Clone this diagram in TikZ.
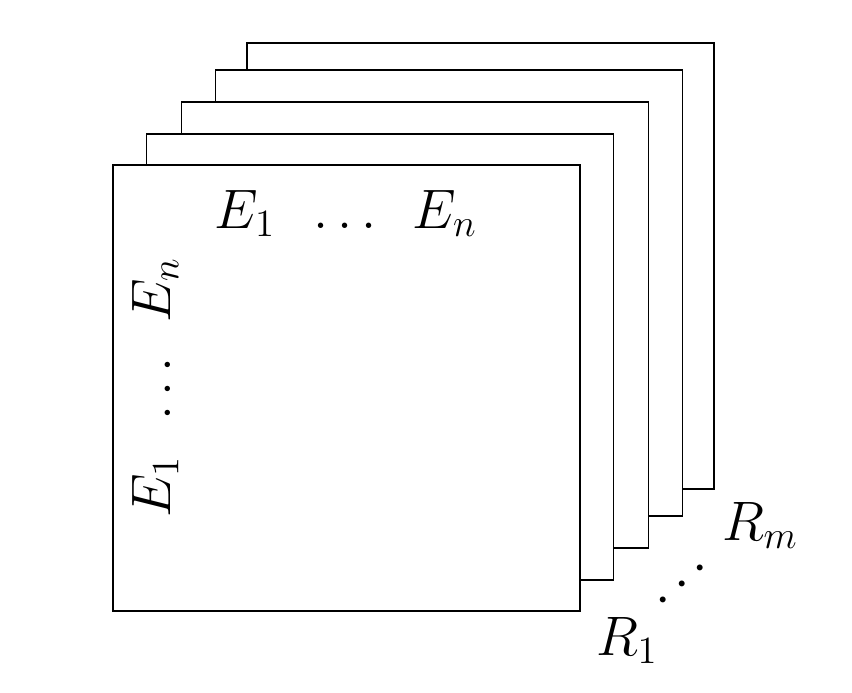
\documentclass[tikz,border=0pt]{standalone}
\begin{document}
\begin{tikzpicture}[x=0.0131cm,y=-0.0131cm,line width=0.7pt,
  lbl/.style={font=\huge,inner sep=0pt,anchor=base}]
\useasboundingbox (0,0) rectangle (852,692);
\foreach \x/\y in {247/43,215.5/70,181.5/102,146.5/134,113/165}
  \draw[fill=white](\x,\y) rectangle +(467,446);
\node[lbl] (Ea) at (245,228) {$E_1$};
\node[lbl] (Edots) at (345,228) {$\dots$};
\node[lbl] (Eb) at (445,228) {$E_n$};
\node[lbl,rotate=90] (Fa) at (170,487) {$E_1$};
\node[lbl,rotate=90] (Fdots) at (170,389) {$\dots$};
\node[lbl,rotate=90] (Fb) at (170,290) {$E_n$};
\node[lbl] (Ra) at (627,655) {$R_1$};
\node[font=\huge,inner sep=0pt,rotate=41] (Rdots) at (683,585) {$\cdots$};
\node[lbl] (Rb) at (760,540) {$R_m$};
\end{tikzpicture}
\end{document}
